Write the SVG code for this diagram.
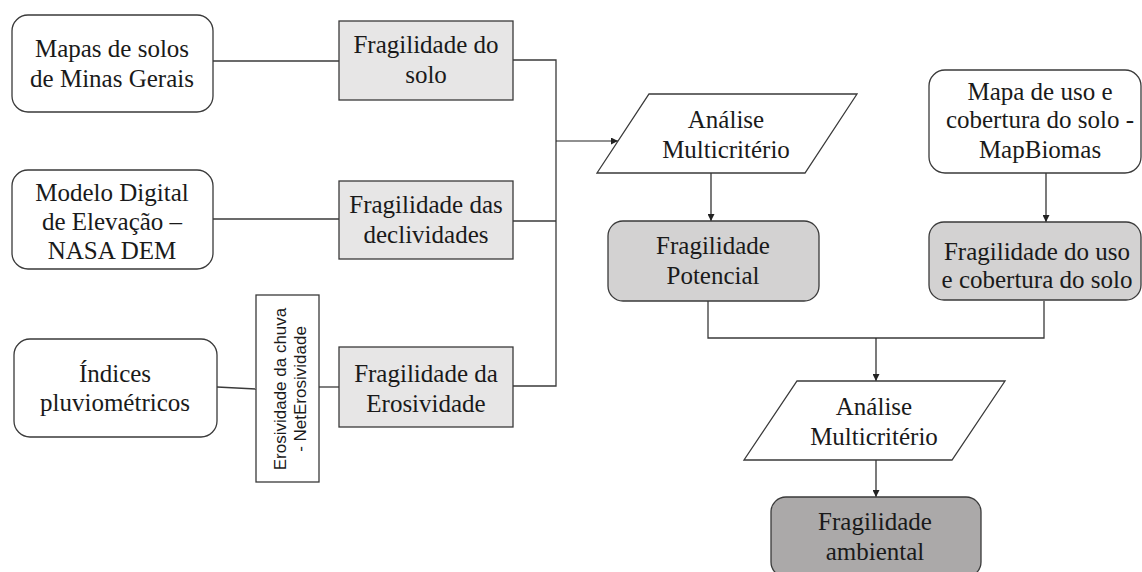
<svg xmlns="http://www.w3.org/2000/svg" width="1142" height="572" viewBox="0 0 1142 572">
<defs>
<marker id="ah" viewBox="0 0 10 10" refX="10" refY="5" markerWidth="7" markerHeight="7" markerUnits="userSpaceOnUse" orient="auto">
<path d="M0,0 L10,5 L0,10 z" fill="#222"/>
</marker>
<style>
.t{font-family:'Liberation Serif','DejaVu Serif','Times New Roman',serif;font-size:25px;fill:#1a1a1a;text-anchor:middle}
.s{font-family:'Liberation Sans','DejaVu Sans',Arial,sans-serif;font-size:17px;fill:#1a1a1a;text-anchor:middle}
.w{fill:#ffffff;stroke:#3a3a3a;stroke-width:1.3}
.g1{fill:#e7e6e6;stroke:#3a3a3a;stroke-width:1.3}
.g2{fill:#d3d2d2;stroke:#3a3a3a;stroke-width:1.3}
.g3{fill:#aba9a9;stroke:#3a3a3a;stroke-width:1.3}
.c{fill:none;stroke:#3a3a3a;stroke-width:1.3}
.a{fill:none;stroke:#222;stroke-width:1.2;marker-end:url(#ah)}
</style>
</defs>
<rect width="1142" height="572" fill="#ffffff"/>
<g id="connectors">
<line class="c" x1="213" y1="61" x2="339" y2="61"/>
<line class="c" x1="213" y1="219" x2="339" y2="219"/>
<line class="c" x1="217" y1="387" x2="256" y2="389"/>
<line class="c" x1="319" y1="387" x2="339" y2="387"/>
<polyline class="c" points="513,60 556,60 556,386 513,386"/>
<line class="c" x1="513" y1="221" x2="556" y2="221"/>
<line class="a" x1="556" y1="141" x2="618" y2="141"/>
<line class="a" x1="711" y1="173" x2="711" y2="221"/>
<polyline class="c" points="708,301 708,338 1044,338 1044,301"/>
<line class="a" x1="876" y1="338" x2="876" y2="381"/>
<line class="a" x1="876" y1="460" x2="876" y2="497"/>
<line class="a" x1="1046" y1="173" x2="1046" y2="222"/>
</g>
<g id="mapas-solos">
<rect class="w" x="12" y="15" width="201" height="97" rx="16"/>
<text class="t" x="112" y="57">Mapas de solos</text>
<text class="t" x="112" y="87">de Minas Gerais</text>
</g>
<g id="modelo-digital">
<rect class="w" x="12" y="170" width="201" height="99" rx="16"/>
<text class="t" x="112" y="201">Modelo Digital</text>
<text class="t" x="112" y="230">de Elevação –</text>
<text class="t" x="112" y="259">NASA DEM</text>
</g>
<g id="indices">
<rect class="w" x="14" y="339" width="203" height="98" rx="16"/>
<text class="t" x="115" y="382">Índices</text>
<text class="t" x="115" y="411">pluviométricos</text>
</g>
<g id="erosividade-chuva">
<rect class="w" x="256" y="295" width="63" height="187"/>
<text class="s" transform="translate(286,389) rotate(-90)">Erosividade da chuva</text>
<text class="s" transform="translate(306,389) rotate(-90)">- NetErosividade</text>
</g>
<g id="frag-solo">
<rect class="g1" x="339" y="21" width="174" height="79"/>
<text class="t" x="426" y="53">Fragilidade do</text>
<text class="t" x="426" y="83">solo</text>
</g>
<g id="frag-declividades">
<rect class="g1" x="339" y="181" width="174" height="78"/>
<text class="t" x="426" y="213">Fragilidade das</text>
<text class="t" x="426" y="243">declividades</text>
</g>
<g id="frag-erosividade">
<rect class="g1" x="339" y="347" width="174" height="80"/>
<text class="t" x="426" y="382">Fragilidade da</text>
<text class="t" x="426" y="412">Erosividade</text>
</g>
<g id="analise-1">
<polygon class="w" points="649,94 857,94 805,173 597,173"/>
<text class="t" x="726" y="128">Análise</text>
<text class="t" x="726" y="158">Multicritério</text>
</g>
<g id="frag-potencial">
<rect class="g2" x="608" y="221" width="211" height="80" rx="15"/>
<text class="t" x="713" y="254">Fragilidade</text>
<text class="t" x="713" y="284">Potencial</text>
</g>
<g id="mapa-uso">
<rect class="w" x="929" y="70" width="212" height="103" rx="16"/>
<text class="t" x="1040" y="100">Mapa de uso e</text>
<text class="t" x="1040" y="128">cobertura do solo -</text>
<text class="t" x="1040" y="158">MapBiomas</text>
</g>
<g id="frag-uso">
<rect class="g2" x="929" y="222" width="212" height="78" rx="15"/>
<text class="t" x="1037" y="260">Fragilidade do uso</text>
<text class="t" x="1037" y="288">e cobertura do solo</text>
</g>
<g id="analise-2">
<polygon class="w" points="797,381 1005,381 952,460 744,460"/>
<text class="t" x="874" y="415">Análise</text>
<text class="t" x="874" y="445">Multicritério</text>
</g>
<g id="frag-ambiental">
<rect class="g3" x="771" y="497" width="210" height="80" rx="15"/>
<text class="t" x="875" y="530">Fragilidade</text>
<text class="t" x="875" y="560">ambiental</text>
</g>
</svg>
